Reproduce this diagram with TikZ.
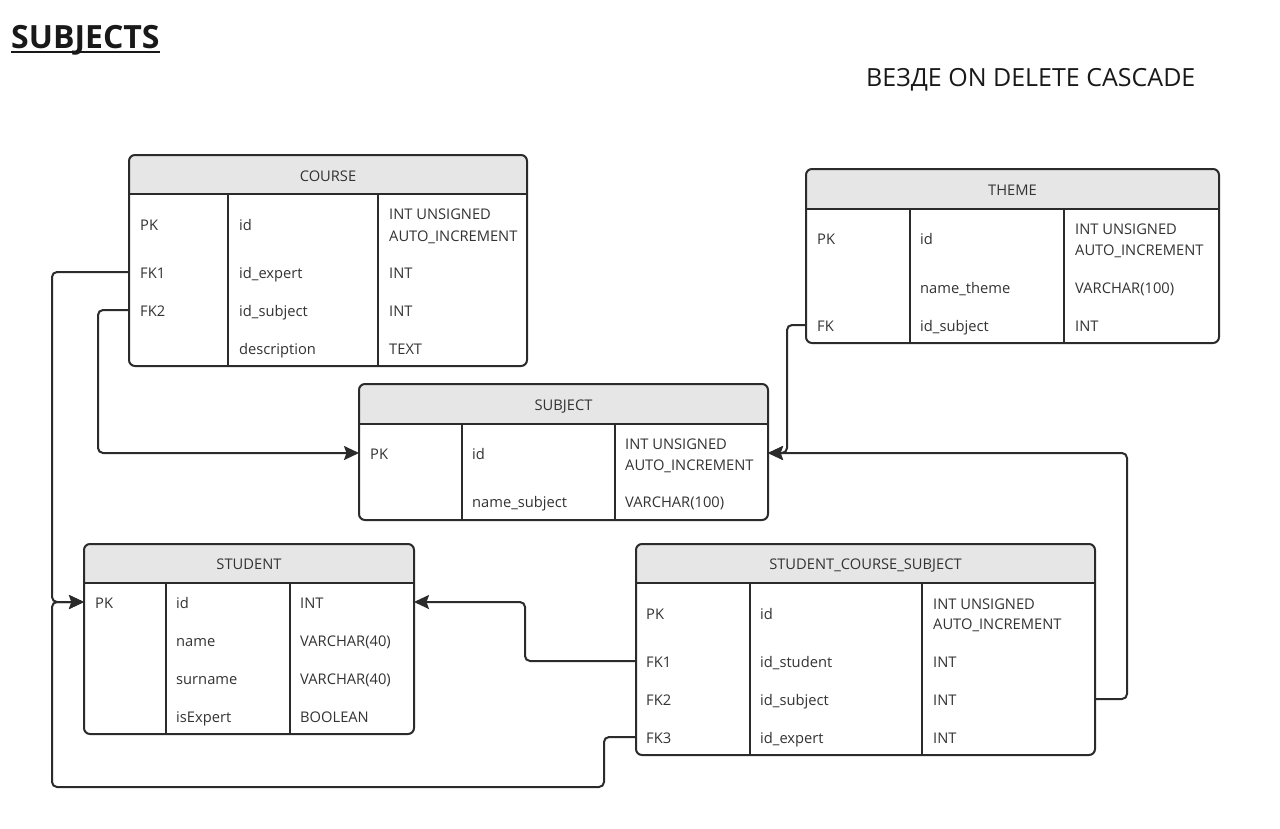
\documentclass[tikz,border=0pt]{standalone}
\usepackage{fontspec}
\setmainfont{Open Sans}
\usetikzlibrary{arrows.meta}
\definecolor{ln}{HTML}{2B2B2B}
\definecolor{hdr}{HTML}{E6E6E6}
\definecolor{tx}{HTML}{333333}
\begin{document}
\begin{tikzpicture}[x=1pt,y=-1pt,
  tbl/.style={draw=ln, line width=2pt, rounded corners=6pt, inner sep=0pt, outer sep=0pt, anchor=north west,
    path picture={\fill[hdr,sharp corners] (path picture bounding box.north west) rectangle ([yshift=-39.5pt]path picture bounding box.north east);}},
  rule/.style={draw=ln, line width=2pt},
  cell/.style={anchor=base west, inner sep=0pt, text=tx, font=\fontsize{14.7}{16}\selectfont},
  hd/.style={anchor=base, inner sep=0pt, text=tx, font=\fontsize{14.7}{16}\selectfont},
  conn/.style={draw=ln, line width=2pt, rounded corners=5pt},
  arr/.style={-{Stealth[length=15pt,width=14pt,inset=2.5pt]}}]
\useasboundingbox[fill=white] (0,0) rectangle (1280,828);

% titles
\node[anchor=base west, inner sep=0pt, text=black!90, font=\fontsize{32}{34}\selectfont\bfseries] (title) at (11,48) {SUBJECTS};
\draw[line width=2.2pt, black!90] (11,52) -- (160,52);
\node[anchor=base west, inner sep=0pt, text=black!90, font=\fontsize{25}{28}\selectfont] (note) at (866,86) {ВЕЗДЕ ON DELETE CASCADE};

% COURSE
\node[tbl, minimum width=398pt, minimum height=211pt] (course) at (129,155) {};
\draw[rule] (129,194) -- (527,194) (228,194) -- (228,366) (378,194) -- (378,366);
\node[hd] (course-h) at (328,181) {COURSE};
\node[cell] (course-a1) at (140,230) {PK};
\node[cell] (course-b1) at (239,230) {id};
\node[cell] (course-c1) at (389,219) {INT UNSIGNED};
\node[cell] (course-c1b) at (389,241) {AUTO\_INCREMENT};
\node[cell] (course-a2) at (140,278) {FK1};
\node[cell] (course-b2) at (239,278) {id\_expert};
\node[cell] (course-c2) at (389,278) {INT};
\node[cell] (course-a3) at (140,316) {FK2};
\node[cell] (course-b3) at (239,316) {id\_subject};
\node[cell] (course-c3) at (389,316) {INT};
\node[cell] (course-b4) at (239,354) {description};
\node[cell] (course-c4) at (389,354) {TEXT};

% SUBJECT
\node[tbl, minimum width=409pt, minimum height=136pt] (subject) at (359,384) {};
\draw[rule] (359,424) -- (768,424) (462,424) -- (462,520) (615,424) -- (615,520);
\node[hd] (subject-h) at (563.5,410) {SUBJECT};
\node[cell] (subject-a1) at (370,459) {PK};
\node[cell] (subject-b1) at (472,459) {id};
\node[cell] (subject-c1) at (625,449) {INT UNSIGNED};
\node[cell] (subject-c1b) at (625,470) {AUTO\_INCREMENT};
\node[cell] (subject-b2) at (472,507) {name\_subject};
\node[cell] (subject-c2) at (625,507) {VARCHAR(100)};

% THEME
\node[tbl, minimum width=413pt, minimum height=174pt] (theme) at (806,169) {};
\draw[rule] (806,209) -- (1219,209) (910,209) -- (910,343) (1064,209) -- (1064,343);
\node[hd] (theme-h) at (1012.5,195) {THEME};
\node[cell] (theme-a1) at (817,244) {PK};
\node[cell] (theme-b1) at (920,244) {id};
\node[cell] (theme-c1) at (1075,234) {INT UNSIGNED};
\node[cell] (theme-c1b) at (1075,255) {AUTO\_INCREMENT};
\node[cell] (theme-b2) at (920,293) {name\_theme};
\node[cell] (theme-c2) at (1075,293) {VARCHAR(100)};
\node[cell] (theme-a3) at (817,331) {FK};
\node[cell] (theme-b3) at (920,331) {id\_subject};
\node[cell] (theme-c3) at (1075,331) {INT};

% STUDENT
\node[tbl, minimum width=330pt, minimum height=190pt] (student) at (84,544) {};
\draw[rule] (84,583) -- (414,583) (166,583) -- (166,734) (290,583) -- (290,734);
\node[hd] (student-h) at (249,569) {STUDENT};
\node[cell] (student-a1) at (95,608) {PK};
\node[cell] (student-b1) at (176,608) {id};
\node[cell] (student-c1) at (300,608) {INT};
\node[cell] (student-b2) at (176,646) {name};
\node[cell] (student-c2) at (300,646) {VARCHAR(40)};
\node[cell] (student-b3) at (176,684) {surname};
\node[cell] (student-c3) at (300,684) {VARCHAR(40)};
\node[cell] (student-b4) at (176,722) {isExpert};
\node[cell] (student-c4) at (300,722) {BOOLEAN};

% STUDENT_COURSE_SUBJECT
\node[tbl, minimum width=459pt, minimum height=211pt] (scs) at (636,544) {};
\draw[rule] (636,583) -- (1095,583) (750,583) -- (750,755) (922,583) -- (922,755);
\node[hd] (scs-h) at (865.5,569) {STUDENT\_COURSE\_SUBJECT};
\node[cell] (scs-a1) at (646,619) {PK};
\node[cell] (scs-b1) at (760,619) {id};
\node[cell] (scs-c1) at (933,609) {INT UNSIGNED};
\node[cell] (scs-c1b) at (933,629) {AUTO\_INCREMENT};
\node[cell] (scs-a2) at (646,667) {FK1};
\node[cell] (scs-b2) at (760,667) {id\_student};
\node[cell] (scs-c2) at (933,667) {INT};
\node[cell] (scs-a3) at (646,705) {FK2};
\node[cell] (scs-b3) at (760,705) {id\_subject};
\node[cell] (scs-c3) at (933,705) {INT};
\node[cell] (scs-a4) at (646,743) {FK3};
\node[cell] (scs-b4) at (760,743) {id\_expert};
\node[cell] (scs-c4) at (933,743) {INT};

% connection points
\coordinate (course-fk1) at (course.west |- 0,272);
\coordinate (course-fk2) at (course.west |- 0,310);
\coordinate (theme-fk) at (theme.west |- 0,325);
\coordinate (subject-pkL) at (subject.west |- 0,453);
\coordinate (subject-pkR) at (subject.east |- 0,453);
\coordinate (student-pkL) at (student.west |- 0,602);
\coordinate (student-pkR) at (student.east |- 0,602);
\coordinate (scs-fk1) at (scs.west |- 0,661);
\coordinate (scs-fk2) at (scs.east |- 0,699);
\coordinate (scs-fk3) at (scs.west |- 0,737);

% connectors
\draw[conn,arr] (course-fk1) -- (52,272) -- (52,602) -- (student-pkL);
\draw[conn,arr] (course-fk2) -- (98,310) -- (98,453) -- (subject-pkL);
\draw[conn,arr] (theme-fk) -- (787,325) -- (787,453) -- (subject-pkR);
\draw[conn,arr] (scs-fk2) -- (1127,699) -- (1127,453) -- (subject-pkR);
\draw[conn,arr] (scs-fk1) -- (525,661) -- (525,602) -- (student-pkR);
\draw[conn,arr] (scs-fk3) -- (604,737) -- (604,787) -- (52,787) -- (52,602) -- (student-pkL);
\end{tikzpicture}
\end{document}
